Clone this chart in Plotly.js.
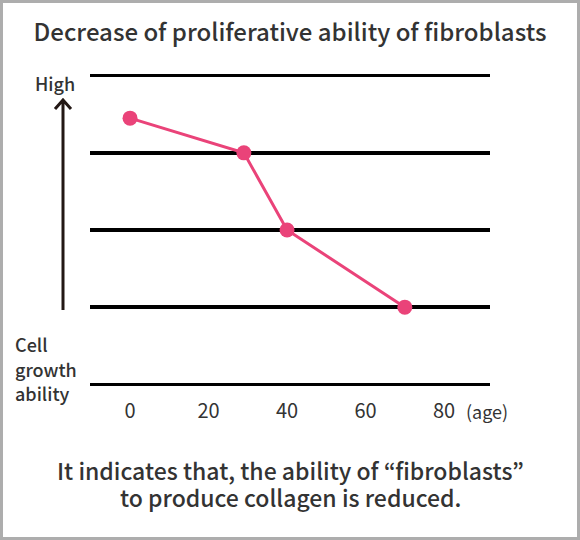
<!DOCTYPE html>
<html>
<head>
<meta charset="utf-8">
<script src="https://cdn.plot.ly/plotly-3.0.1.min.js"></script>
<style>
  body { margin: 0; background: #fff; }
  #wrap { position: relative; width: 580px; height: 540px; }
  #chart { position: absolute; left: 0; top: 0; width: 580px; height: 540px; }
  #frame { position: absolute; left: 0; top: 0; width: 580px; height: 540px;
           box-sizing: border-box; border: 3px solid #adadad; pointer-events: none; }
</style>
</head>
<body>
<div id="wrap"><div id="chart"></div><div id="frame"></div></div>
<script>
// datos
var ages = [0, 29, 40, 70];
var growth = [3.45, 3, 2, 1];
var ageTicks = [0, 20, 40, 60, 80];
var levels = [0, 1, 2, 3, 4];
var yLabel = ['Cell', 'growth', 'ability'];
var nota = ['It indicates that, the ability of \u201cfibroblasts\u201d', 'to produce collagen is reduced.'];

var fam = '"Noto Sans CJK JP", "Noto Sans", sans-serif';
var txt = '#333333';

// medidas del area de trazado en pixeles
var W = 580, H = 540;
var m = {l: 90, r: 90, t: 68, b: 148};
var pw = W - m.l - m.r, ph = H - m.t - m.b;
function px(x) { return (x - m.l) / pw; }
function py(y) { return (H - m.b - y) / ph; }

var trace = {
    x: ages,
    y: growth,
    type: 'scatter',
    mode: 'lines+markers',
    line: {color: '#ea4379', width: 3},
    marker: {color: '#ea4379', size: 15},
    hoverinfo: 'skip'
};

// flecha vertical con punta abierta
var arrowPath = 'M ' + px(63) + ' ' + py(310) + ' L ' + px(63) + ' ' + py(100) +
    ' M ' + px(55) + ' ' + py(109) + ' L ' + px(63) + ' ' + py(100) + ' L ' + px(71) + ' ' + py(109);

var annots = [
    {text: '(age)', xref: 'paper', yref: 'paper', x: px(464), y: py(411),
     xanchor: 'left', yanchor: 'middle', showarrow: false,
     font: {family: fam, size: 18, color: txt}},
    {text: 'High', xref: 'paper', yref: 'paper', x: px(55), y: py(83),
     xanchor: 'center', yanchor: 'middle', showarrow: false,
     font: {family: fam, size: 18, color: txt, weight: 500}}
];
yLabel.forEach(function (t, i) {
    annots.push({text: t, xref: 'paper', yref: 'paper', x: px(13), y: py(344 + i * 24.5),
        xanchor: 'left', yanchor: 'middle', showarrow: false,
        font: {family: fam, size: 18, color: txt, weight: 500}});
});
nota.forEach(function (t, i) {
    annots.push({text: t, xref: 'paper', yref: 'paper', x: px(290), y: py(470 + i * 27),
        xanchor: 'center', yanchor: 'middle', showarrow: false,
        font: {family: fam, size: 23, color: txt, weight: 500}});
});

var layout = {
    width: W,
    height: H,
    margin: m,
    paper_bgcolor: '#fff',
    plot_bgcolor: '#fff',
    showlegend: false,
    title: {
        text: 'Decrease of proliferative ability of fibroblasts',
        font: {family: fam, size: 24, color: txt, weight: 500},
        x: 0.5, xanchor: 'center',
        y: 1 - 33 / H, yanchor: 'middle', yref: 'container'
    },
    xaxis: {
        range: [-10.2, 91.7],
        tickvals: ageTicks,
        ticktext: ageTicks.map(String),
        showgrid: false, zeroline: false, showline: false, ticks: '',
        ticklabelstandoff: 5,
        tickfont: {family: fam, size: 20, color: txt},
        fixedrange: true
    },
    yaxis: {
        range: [-0.1, 4.1],
        tickvals: levels,
        showticklabels: false,
        showgrid: true, gridcolor: '#000', gridwidth: 3.5,
        zeroline: false, showline: false, ticks: '',
        fixedrange: true
    },
    shapes: [{
        type: 'path', xref: 'paper', yref: 'paper',
        path: arrowPath,
        line: {color: '#231815', width: 3}
    }],
    annotations: annots
};

Plotly.newPlot('chart', [trace], layout, {displayModeBar: false, staticPlot: true});
</script>
</body>
</html>
